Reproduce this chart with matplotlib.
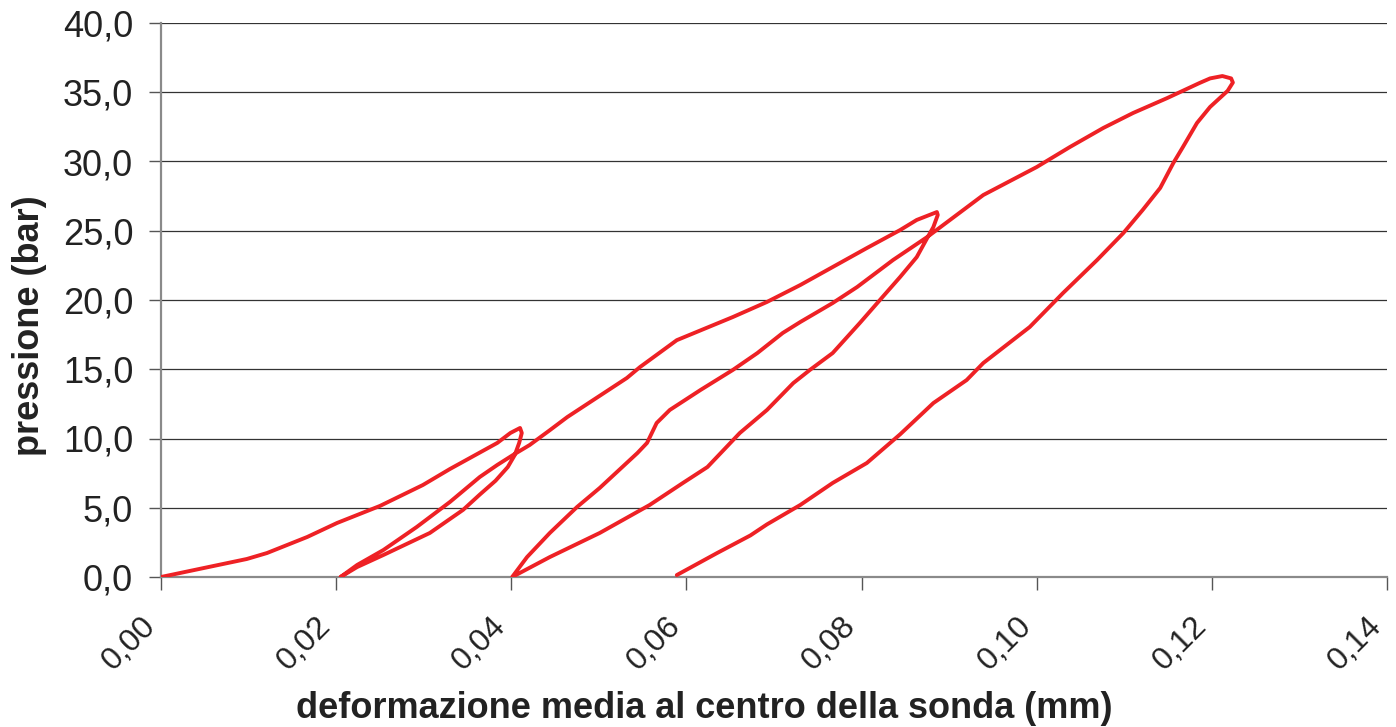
import numpy as np
import matplotlib.pyplot as plt
from matplotlib.ticker import FuncFormatter, MultipleLocator
from matplotlib.transforms import ScaledTranslation

plt.rcParams['font.family'] = ['Liberation Sans', 'DejaVu Sans']

# deformation (mm) / pressure (bar), one segment per branch
x_load1 = [0.0, 0.0098, 0.0121, 0.0167, 0.0201, 0.0250, 0.0299, 0.0330, 0.0384, 0.0399, 0.0410]
y_load1 = [0.0, 1.30, 1.73, 2.89, 3.90, 5.13, 6.64, 7.80, 9.68, 10.40, 10.76]

x_unload1 = [0.0412, 0.0409, 0.0404, 0.0396, 0.0382, 0.0364, 0.0345, 0.0307, 0.0254, 0.0224, 0.0205]
y_unload1 = [10.40, 9.68, 8.81, 7.94, 6.95, 5.95, 4.85, 3.18, 1.59, 0.72, 0.0]

x_reload1 = [0.0224, 0.0254, 0.0292, 0.0330, 0.0364, 0.0384, 0.0402, 0.0421, 0.0444, 0.0464,
             0.0532, 0.0547, 0.0589, 0.0653, 0.0692, 0.0730, 0.0767, 0.0806, 0.0844, 0.0863, 0.0886]
y_reload1 = [0.87, 1.95, 3.61, 5.42, 7.22, 8.09, 8.81, 9.53, 10.60, 11.55,
             14.37, 15.16, 17.10, 18.77, 19.86, 21.08, 22.38, 23.75, 25.05, 25.78, 26.35]

x_unload2 = [0.0887, 0.0882, 0.0875, 0.0863, 0.0844, 0.0824, 0.0798, 0.0767, 0.0741, 0.0722,
             0.0692, 0.0661, 0.0624, 0.0596, 0.0558, 0.0501, 0.0444, 0.0401]
y_unload2 = [26.14, 25.27, 24.48, 23.10, 21.66, 20.22, 18.34, 16.17, 14.95, 14.00,
             12.06, 10.40, 7.94, 6.79, 5.20, 3.18, 1.44, 0.0]

x_reload2 = [0.0418, 0.0444, 0.0475, 0.0501, 0.0544, 0.0555, 0.0566, 0.0581, 0.0616, 0.0653,
             0.0681, 0.0710, 0.0730, 0.0767, 0.0795, 0.0836, 0.0875, 0.0901, 0.0939, 0.1000,
             0.1038, 0.1076, 0.1110, 0.1149, 0.1186, 0.1198, 0.1212, 0.1222]
y_reload2 = [1.44, 3.18, 5.05, 6.43, 8.95, 9.68, 11.12, 12.06, 13.50, 14.95,
             16.17, 17.62, 18.41, 19.78, 20.94, 22.89, 24.55, 25.78, 27.58, 29.60,
             31.05, 32.42, 33.50, 34.58, 35.67, 36.00, 36.17, 36.00]

x_unload3 = [0.1224, 0.1218, 0.1198, 0.1183, 0.1167, 0.1156, 0.1141, 0.1121, 0.1099, 0.1069,
             0.1030, 0.0992, 0.0939, 0.0920, 0.0882, 0.0844, 0.0806, 0.0767, 0.0730, 0.0692,
             0.0673, 0.0635, 0.0589]
y_unload3 = [35.70, 35.10, 33.94, 32.78, 31.05, 29.89, 28.09, 26.50, 24.84, 22.89,
             20.50, 18.05, 15.45, 14.22, 12.56, 10.30, 8.23, 6.79, 5.20, 3.80,
             3.00, 1.73, 0.14]

x_all = x_load1 + x_unload1 + x_reload1 + x_unload2 + x_reload2 + x_unload3
y_all = y_load1 + y_unload1 + y_reload1 + y_unload2 + y_reload2 + y_unload3

fig = plt.figure(figsize=(13.96, 7.27), dpi=100)
ax = fig.add_axes([161 / 1396, 150 / 727, 1226 / 1396, 554 / 727])

ax.plot(x_all, y_all, color='#ee2125', lw=2.8, solid_joinstyle='round', solid_capstyle='round', zorder=3)

ax.set_xlim(0, 0.14)
ax.set_ylim(0, 40)
ax.xaxis.set_major_locator(MultipleLocator(0.02))
ax.yaxis.set_major_locator(MultipleLocator(5))
ax.xaxis.set_major_formatter(FuncFormatter(lambda v, p: f'{v:.2f}'.replace('.', ',')))
ax.yaxis.set_major_formatter(FuncFormatter(lambda v, p: f'{v:.1f}'.replace('.', ',')))

ax.grid(axis='y', color='#333333', lw=0.9)
ax.set_axisbelow(True)
for s in ['top', 'right']:
    ax.spines[s].set_visible(False)
for s in ['left', 'bottom']:
    ax.spines[s].set_color('#8a8a8a')
    ax.spines[s].set_linewidth(1.6)

ax.tick_params(axis='y', direction='out', length=9, width=1, color='#555555',
               labelsize=26, pad=11, labelcolor='#222222')
ax.tick_params(axis='x', direction='out', length=9, width=1, color='#555555',
               labelsize=23, pad=23, labelcolor='#222222')
# rotated labels end just left of and below their tick
shift = ScaledTranslation(-0.10, 0, fig.dpi_scale_trans)
for lab in ax.get_xticklabels():
    lab.set_rotation(45)
    lab.set_ha('right')
    lab.set_va('center')
    lab.set_rotation_mode('anchor')
    lab.set_transform(lab.get_transform() + shift)

fig.text(704 / 1396, 9 / 727, 'deformazione media al centro della sonda (mm)',
         ha='center', va='baseline', fontsize=26, fontweight='bold', color='#222222')
fig.text(30 / 1396, 1 - 326 / 727, 'pressione (bar)', rotation=90,
         ha='center', va='center', fontsize=26, fontweight='bold', color='#222222')

fig.savefig('out.png', dpi=100)
